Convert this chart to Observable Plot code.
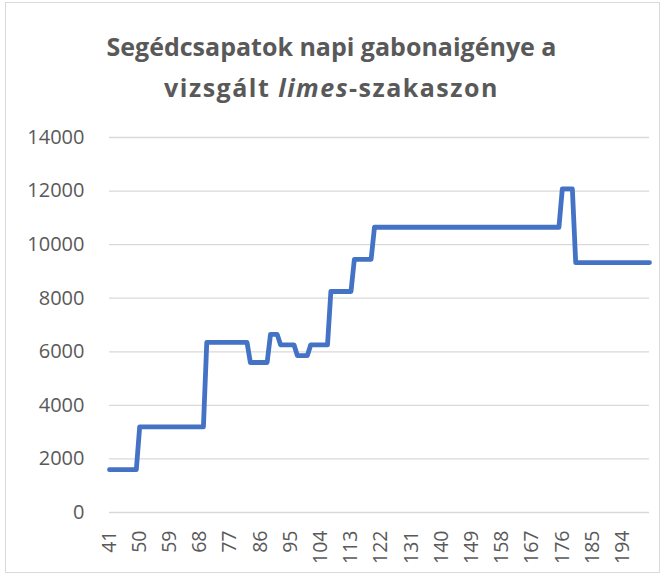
<!DOCTYPE html>
<html>
<head>
<meta charset="utf-8">
<script src="https://cdn.jsdelivr.net/npm/d3@7"></script>
<script src="https://cdn.jsdelivr.net/npm/@observablehq/plot@0.6"></script>
<style>
  body { margin: 0; background: #fff; width: 669px; height: 578px; overflow: hidden; position: relative; font-family: "Open Sans", sans-serif; }
  #frame { position: absolute; left: 5px; top: 2px; width: 655px; height: 571px; border: 1px solid #d9d9d9; box-sizing: border-box; }
  #title { position: absolute; top: 26px; left: 0; width: 663px; text-align: center; font: bold 25px "Open Sans", sans-serif; color: #595959; line-height: 41px; }
  #title .l2 { letter-spacing: 1.5px; word-spacing: 0px; }
  #chart { position: absolute; top: 115px; left: 0; }
</style>
</head>
<body>
<div id="frame"></div>
<div id="title">Segédcsapatok napi gabonaigénye a<br><span class="l2">vizsgált <i>limes</i>-szakaszon</span></div>
<div id="chart"></div>
<script>
// Categories (days / positions) 41 … 202
const categories = d3.range(41, 203);

// Daily grain requirement per category
const values = [
  // 41–49
  1600,1600,1600,1600,1600,1600,1600,1600,1600,
  // 50–69
  3200,3200,3200,3200,3200,3200,3200,3200,3200,3200,
  3200,3200,3200,3200,3200,3200,3200,3200,3200,3200,
  // 70–82
  6350,6350,6350,6350,6350,6350,6350,6350,6350,6350,6350,6350,6350,
  // 83–88
  5600,5600,5600,5600,5600,5600,
  // 89–91
  6650,6650,6650,
  // 92–96
  6260,6260,6260,6260,6260,
  // 97–100
  5860,5860,5860,5860,
  // 101–106
  6260,6260,6260,6260,6260,6260,
  // 107–113
  8250,8250,8250,8250,8250,8250,8250,
  // 114–119
  9450,9450,9450,9450,9450,9450,
  // 120–175
  10650,10650,10650,10650,10650,10650,10650,10650,10650,10650,
  10650,10650,10650,10650,10650,10650,10650,10650,10650,10650,
  10650,10650,10650,10650,10650,10650,10650,10650,10650,10650,
  10650,10650,10650,10650,10650,10650,10650,10650,10650,10650,
  10650,10650,10650,10650,10650,10650,10650,10650,10650,10650,
  10650,10650,10650,10650,10650,10650,
  // 176–179
  12080,12080,12080,12080,
  // 180–202
  9330,9330,9330,9330,9330,9330,9330,9330,9330,9330,
  9330,9330,9330,9330,9330,9330,9330,9330,9330,9330,
  9330,9330,9330
];

const xTickLabels = [41, 50, 59, 68, 77, 86, 95, 104, 113, 122, 131, 140, 149, 158, 167, 176, 185, 194];
const yTickLabels = [0, 2000, 4000, 6000, 8000, 10000, 12000, 14000];

const data = categories.map((c, i) => ({ c, v: values[i] }));

const chart = Plot.plot({
  width: 669,
  height: 463,
  marginTop: 22,
  marginBottom: 66,
  marginLeft: 109,
  marginRight: 20,
  style: { fontFamily: "'Open Sans', sans-serif", fontSize: "20px", color: "#595959", background: "transparent" },
  x: { domain: [41, 202], label: null },
  y: { domain: [0, 14000], label: null },
  marks: [
    Plot.gridY(yTickLabels, { stroke: "#d9d9d9", strokeOpacity: 1, strokeWidth: 1.3 }),
    Plot.axisY(yTickLabels, { tickSize: 0, tickPadding: 25, tickFormat: d => String(d), fill: "#595959", fontSize: 20, label: null }),
    Plot.axisX(xTickLabels, { tickSize: 0, tickPadding: 18, tickRotate: -90, tickFormat: d => String(d), fill: "#595959", fontSize: 19.5, label: null }),
    Plot.line(data, { x: "c", y: "v", stroke: "#4472C4", strokeWidth: 4.8, strokeLinejoin: "round", strokeLinecap: "round" })
  ]
});
document.getElementById("chart").appendChild(chart);
</script>
</body>
</html>
